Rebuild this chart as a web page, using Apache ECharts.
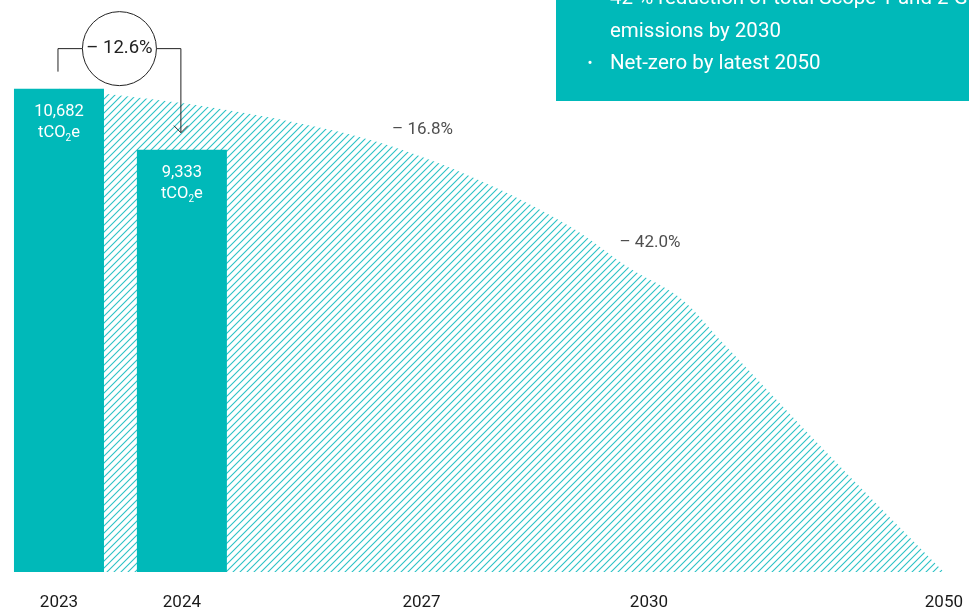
<!DOCTYPE html>
<html><head><meta charset="utf-8">
<script src="https://cdn.jsdelivr.net/npm/echarts@6/dist/echarts.min.js"></script>
<style>html,body{margin:0;padding:0;background:#fff}#c{width:969px;height:611px}</style>
</head><body><div id="c"></div>
<script>
// ---- data ----
const years = ['2023', '2024', '2027', '2030', '2050'];
const barYears = ['2023', '2024'];
const barValues = [10682, 9333];
const barLabels = ['10,682', '9,333'];
const changeLabel = '– 12.6%';
const targetYears = ['2027', '2030'];
const targetValues = [8887, 6196];
const targetLabels = ['– 16.8%', '– 42.0%'];
// reduction trajectory (hatched area): axis slot -> tCO2e
const trajectorySlots = [0, 20, 38, 52, 68, 83, 93, 101, 108, 126, 144];
const trajectoryValues = [10682, 10363, 9946, 9495, 8682, 7649, 6704, 6066, 5064, 2484, 0];
const boxLines = ['42 % reduction of total Scope 1 and 2 GHG', 'emissions by 2030', 'Net-zero by latest 2050'];
const boxBullets = [true, false, true];

// ---- layout (the axis is not linear in years) ----
const yearSlot = [0, 20, 59, 96, 144];
const slotCount = 145;

const TEAL = '#00b9b9';
const FONT = 'Roboto';
const slotOf = y => yearSlot[years.indexOf(y)];
const categories = Array.from({length: slotCount}, (_, i) => String(i));

function hatch() {
  const s = 7, c = document.createElement('canvas');
  c.width = s; c.height = s;
  const g = c.getContext('2d');
  g.strokeStyle = '#2cc2c6'; g.lineWidth = 1.1;
  g.beginPath();
  g.moveTo(-1, s + 1); g.lineTo(s + 1, -1);
  g.moveTo(-1, 1); g.lineTo(1, -1);
  g.moveTo(s - 1, s + 1); g.lineTo(s + 1, s - 1);
  g.stroke();
  return c;
}

const chart = echarts.init(document.getElementById('c'), null, {renderer: 'canvas'});
const option = {
  animation: false,
  grid: {left: 55.9, right: 22, top: 29, bottom: 36, containLabel: false},
  xAxis: {
    type: 'category', data: categories, boundaryGap: true,
    axisLine: {show: false}, axisTick: {show: false},
    axisLabel: {
      interval: 0, margin: 22, color: '#1a1a1a', fontFamily: FONT, fontSize: 17,
      formatter: (v, idx) => { const k = yearSlot.indexOf(idx); return k >= 0 ? years[k] : ''; }
    }
  },
  yAxis: {type: 'value', min: 0, max: 12000, show: false, splitLine: {show: false}},
  series: [
    {
      type: 'line', z: 1, smooth: 0.35, symbol: 'none',
      lineStyle: {width: 0},
      areaStyle: {color: {image: hatch(), repeat: 'repeat'}, opacity: 1},
      data: trajectorySlots.map((s, i) => [s, trajectoryValues[i]])
    },
    {
      type: 'bar', z: 2, barWidth: 90, clip: false,
      itemStyle: {color: TEAL},
      label: {
        show: true, position: 'insideTop', distance: 12.5, color: '#fff',
        formatter: p => '{v|' + barLabels[p.dataIndex] + '}\n{u|tCO}{s|2}{u|e}',
        rich: {
          v: {fontFamily: FONT, fontSize: 16.5, lineHeight: 21, color: '#fff'},
          u: {fontFamily: FONT, fontSize: 16.5, lineHeight: 21, color: '#fff'},
          s: {fontFamily: FONT, fontSize: 10, lineHeight: 10, verticalAlign: 'bottom', color: '#fff'}
        }
      },
      data: barYears.map((y, i) => [slotOf(y) + 0.15, barValues[i]])
    },
    {
      type: 'scatter', z: 3, symbolSize: 0,
      label: {
        show: true, position: 'inside', color: '#222', fontFamily: FONT, fontSize: 17,
        formatter: p => targetLabels[p.dataIndex]
      },
      data: targetYears.map((y, i) => ({
        value: [slotOf(y), targetValues[i]],
        label: {offset: [1, i === 0 ? -40 : -49]}
      }))
    }
  ]
};
chart.setOption(option);

// annotation bracket between the two bars, positioned from the scales
const p1 = chart.convertToPixel({gridIndex: 0}, [slotOf('2023'), barValues[0]]);
const p2 = chart.convertToPixel({gridIndex: 0}, [slotOf('2024'), barValues[1]]);
const cx = (p1[0] + p2[0]) / 2 - 1, cy = p1[1] - 40, r = 37;
const lineStyle = {stroke: '#222', lineWidth: 1, fill: null};
const graphics = [
  {type: 'polyline', shape: {points: [[p1[0] - 1, p1[1] - 17], [p1[0] - 1, cy], [cx - r, cy]]}, style: lineStyle, z: 10},
  {type: 'circle', shape: {cx: cx, cy: cy, r: r}, style: {stroke: '#222', lineWidth: 1, fill: '#fff'}, z: 10},
  {type: 'text', x: cx, y: cy, style: {text: changeLabel, fill: '#222', fontFamily: FONT, fontSize: 18.5, align: 'center', verticalAlign: 'middle'}, z: 11},
  {type: 'polyline', shape: {points: [[cx + r, cy], [p2[0] - 1, cy], [p2[0] - 1, p2[1] - 17]]}, style: lineStyle, z: 10},
  {type: 'polyline', shape: {points: [[p2[0] - 8, p2[1] - 24], [p2[0] - 1, p2[1] - 17], [p2[0] + 6, p2[1] - 24]]}, style: lineStyle, z: 10},
  {type: 'rect', shape: {x: 556, y: -10, width: 430, height: 111}, style: {fill: TEAL}, z: 10}
];
const lineY = [-1.5, 31.5, 64];
boxLines.forEach((t, i) => {
  if (boxBullets[i]) graphics.push({type: 'text', x: 590, y: lineY[i], style: {text: '•', fill: '#fff', fontFamily: FONT, fontSize: 15, align: 'center', verticalAlign: 'middle'}, z: 11});
  graphics.push({type: 'text', x: 610, y: lineY[i], style: {text: t, fill: '#fff', fontFamily: FONT, fontSize: 20.5, align: 'left', verticalAlign: 'middle'}, z: 11});
});
chart.setOption({graphic: graphics});
</script>
</body></html>
